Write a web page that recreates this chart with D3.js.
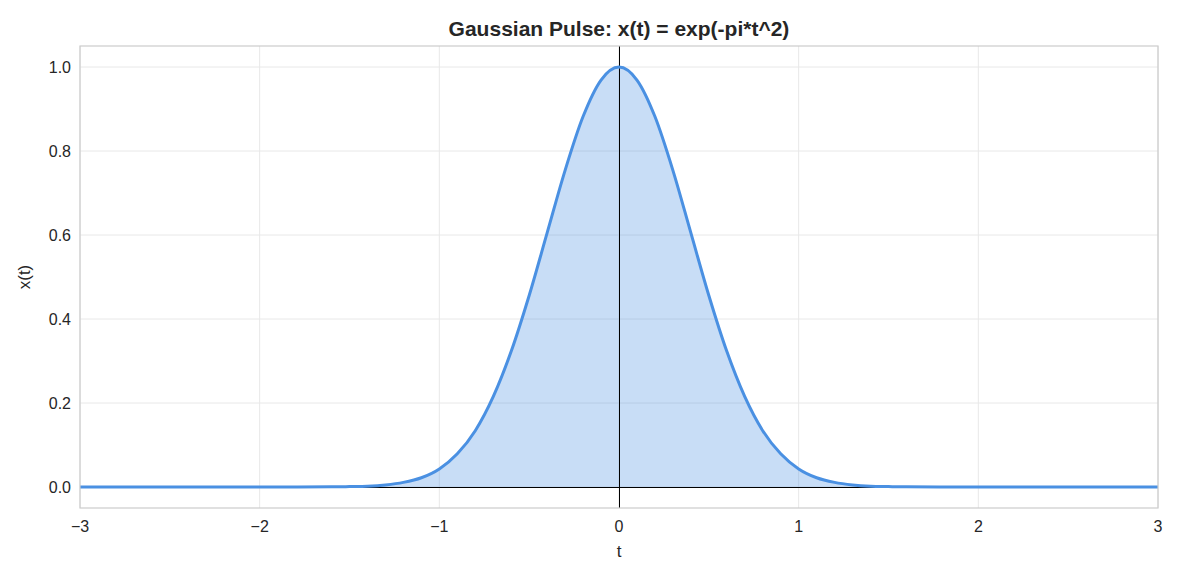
<!DOCTYPE html>
<html><head><meta charset="utf-8">
<script src="https://cdn.jsdelivr.net/npm/d3@7"></script>
<style>body{margin:0;background:#fff;font-family:"Liberation Sans",Arial,sans-serif}</style>
</head><body><svg id="c" width="1179" height="579"></svg>
<script>
const tValues = [-3,-2,-1.6,-1.5,-1.4,-1.3,-1.2,-1.1,-1.0,-0.9,-0.8,-0.7,-0.6,-0.5,-0.4,-0.3,-0.2,-0.1,0,0.1,0.2,0.3,0.4,0.5,0.6,0.7,0.8,0.9,1.0,1.1,1.2,1.3,1.4,1.5,1.6,2,3];
const xValues = [0,0,0.0003,0.001,0.002,0.005,0.011,0.022,0.043,0.079,0.134,0.215,0.323,0.456,0.605,0.754,0.882,0.969,1,0.969,0.882,0.754,0.605,0.456,0.323,0.215,0.134,0.079,0.043,0.022,0.011,0.005,0.002,0.001,0.0003,0,0];
const xTicks = [-3,-2,-1,0,1,2,3];
const yTicks = [0,0.2,0.4,0.6,0.8,1.0];
const data = tValues.map((t,i)=>({t,v:xValues[i]}));
const svg = d3.select("#c");
const L=80,R=1158,T=46,B=508;
const x = d3.scaleLinear().domain([-3,3]).range([L,R]);
const y = d3.scaleLinear().domain([-0.05,1.05]).range([B,T]);
const g = svg.append("g");
g.selectAll(".gx").data(xTicks).join("line").attr("x1",d=>x(d)).attr("x2",d=>x(d)).attr("y1",T).attr("y2",B).attr("stroke","#e8e8e8");
g.selectAll(".gy").data(yTicks).join("line").attr("x1",L).attr("x2",R).attr("y1",d=>y(d)).attr("y2",d=>y(d)).attr("stroke","#e8e8e8");
const curve = d3.curveMonotoneX;
g.append("path").datum(data).attr("d",d3.area().x(d=>x(d.t)).y0(y(0)).y1(d=>y(d.v)).curve(curve)).attr("fill","#4a90e2").attr("opacity",0.3);
g.append("line").attr("x1",L).attr("x2",R).attr("y1",Math.round(y(0))+0.5).attr("y2",Math.round(y(0))+0.5).attr("stroke","#000").attr("stroke-width",1);
g.append("line").attr("x1",Math.round(x(0))+0.5).attr("x2",Math.round(x(0))+0.5).attr("y1",T).attr("y2",B).attr("stroke","#000").attr("stroke-width",1);
g.append("path").datum(data).attr("d",d3.line().x(d=>x(d.t)).y(d=>y(d.v)).curve(curve)).attr("fill","none").attr("stroke","#4a90e2").attr("stroke-width",3);
g.append("rect").attr("x",L).attr("y",T).attr("width",R-L).attr("height",B-T).attr("fill","none").attr("stroke","#ccc").attr("stroke-width",1.2);
const fmtX = d=> d<0 ? "\u2212"+Math.abs(d) : String(d);
g.selectAll(".tx").data(xTicks).join("text").attr("x",d=>x(d)).attr("y",B+24).attr("text-anchor","middle").attr("font-size",16).attr("fill","#262626").text(fmtX);
g.selectAll(".ty").data(yTicks).join("text").attr("x",L-9).attr("y",d=>y(d)+6).attr("text-anchor","end").attr("font-size",16).attr("fill","#262626").text(d=>d.toFixed(1));
svg.append("text").attr("x",(L+R)/2).attr("y",557).attr("text-anchor","middle").attr("font-size",17).attr("fill","#262626").text("t");
svg.append("text").attr("transform",`translate(30,${(T+B)/2}) rotate(-90)`).attr("text-anchor","middle").attr("font-size",17).attr("fill","#262626").text("x(t)");
svg.append("text").attr("x",(L+R)/2).attr("y",36).attr("text-anchor","middle").attr("font-size",21).attr("font-weight","bold").attr("fill","#262626").text("Gaussian Pulse: x(t) = exp(-pi*t^2)");
</script></body></html>
